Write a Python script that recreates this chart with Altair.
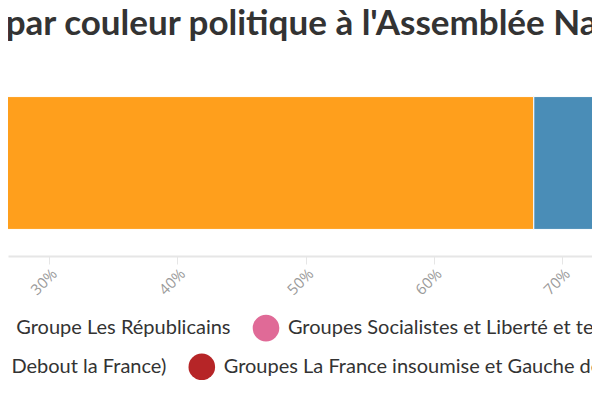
import altair as alt
import pandas as pd

# ---- data ----
groups = [
    "Groupes La République en Marche et MoDem",
    "Groupe Les Républicains",
    "Groupes Socialistes et Liberté et territoires",
    "Groupe UDI, Agir et Indépendants",
    "Non-inscrits (dont Rassemblement National et Debout la France)",
    "Groupes La France insoumise et Gauche démocrate et républicaine",
]
shares_pct = [67.8, 11.2, 7.5, 5.0, 3.0, 5.5]
colors = ["#ff9f1c", "#4a8db7", "#e06a97", "#7fb3d5", "#8c8c8c", "#b62527"]
legend_row = [1, 1, 1, 1, 2, 2]
tick_values = [0.0, 0.1, 0.2, 0.3, 0.4, 0.5, 0.6, 0.7, 0.8, 0.9, 1.0]
title_text = "Part des amendements adoptés par couleur politique à l'Assemblée Nationale"

df = pd.DataFrame({
    "groupe": groups,
    "part": [v / 100 for v in shares_pct],
    "ordre": list(range(len(groups))),
    "rang": legend_row,
    "barre": ["Assemblée"] * len(groups),
})

x_scale = alt.Scale(domain=[0.26803, 0.72339], nice=False, zero=False)
y_scale = alt.Scale(paddingOuter=0.2, paddingInner=0)


def legend_for(x, y):
    return alt.Legend(
        title=None,
        orient="none",
        legendX=x,
        legendY=y,
        direction="horizontal",
        symbolType="circle",
        symbolSize=707,
        symbolStrokeWidth=0,
        labelFont="Lato",
        labelFontSize=20,
        labelColor="#333333",
        labelOffset=8.4,
        labelLimit=1000,
        columnPadding=21.6,
        padding=0,
    )


def layer_for(row, lx, ly):
    dom = [g for g, r in zip(groups, legend_row) if r == row]
    rng = [c for c, r in zip(colors, legend_row) if r == row]
    return (
        alt.Chart(df)
        .transform_stack(
            stack="part",
            groupby=["barre"],
            as_=["x0", "x1"],
            sort=[alt.SortField("ordre", order="ascending")],
        )
        .transform_filter(f"datum.rang == {row}")
        .mark_bar(clip=True, stroke="white", strokeWidth=1)
        .encode(
            x=alt.X(
                "x0:Q",
                scale=x_scale,
                axis=alt.Axis(
                    values=tick_values,
                    format=".0%",
                    labelAngle=315,
                    title=None,
                    grid=False,
                ),
            ),
            x2="x1:Q",
            y=alt.Y("barre:N", axis=None, scale=y_scale),
            color=alt.Color(
                "groupe:N",
                scale=alt.Scale(domain=dom, range=rng),
                legend=legend_for(lx, ly),
            ),
        )
    )


chart = (
    alt.layer(
        layer_for(1, -485.7, 244.5),
        layer_for(2, -440.3, 283.3),
    )
    .resolve_scale(color="independent")
    .properties(
        width=584,
        height=186,
        padding={"left": 0, "right": 0, "top": 62, "bottom": 124},
        autosize=alt.AutoSizeParams(type="none"),
        title=alt.Title(
            title_text,
            anchor="start",
            frame="group",
            font="Lato",
            fontSize=35,
            fontWeight="bold",
            color="#333333",
            baseline="alphabetic",
            offset=13,
            dx=-499.5,
            dy=13,
        ),
    )
    .configure_view(strokeWidth=0)
    .configure_axis(
        domainColor="#e6e6e6",
        domainWidth=2,
        tickColor="#e6e6e6",
        tickSize=8,
        labelColor="#9a9a9a",
        labelFont="Open Sans",
        labelFontSize=15,
        labelPadding=2,
    )
)

chart.save("out.html", embed_options={"renderer": "svg", "actions": False})
